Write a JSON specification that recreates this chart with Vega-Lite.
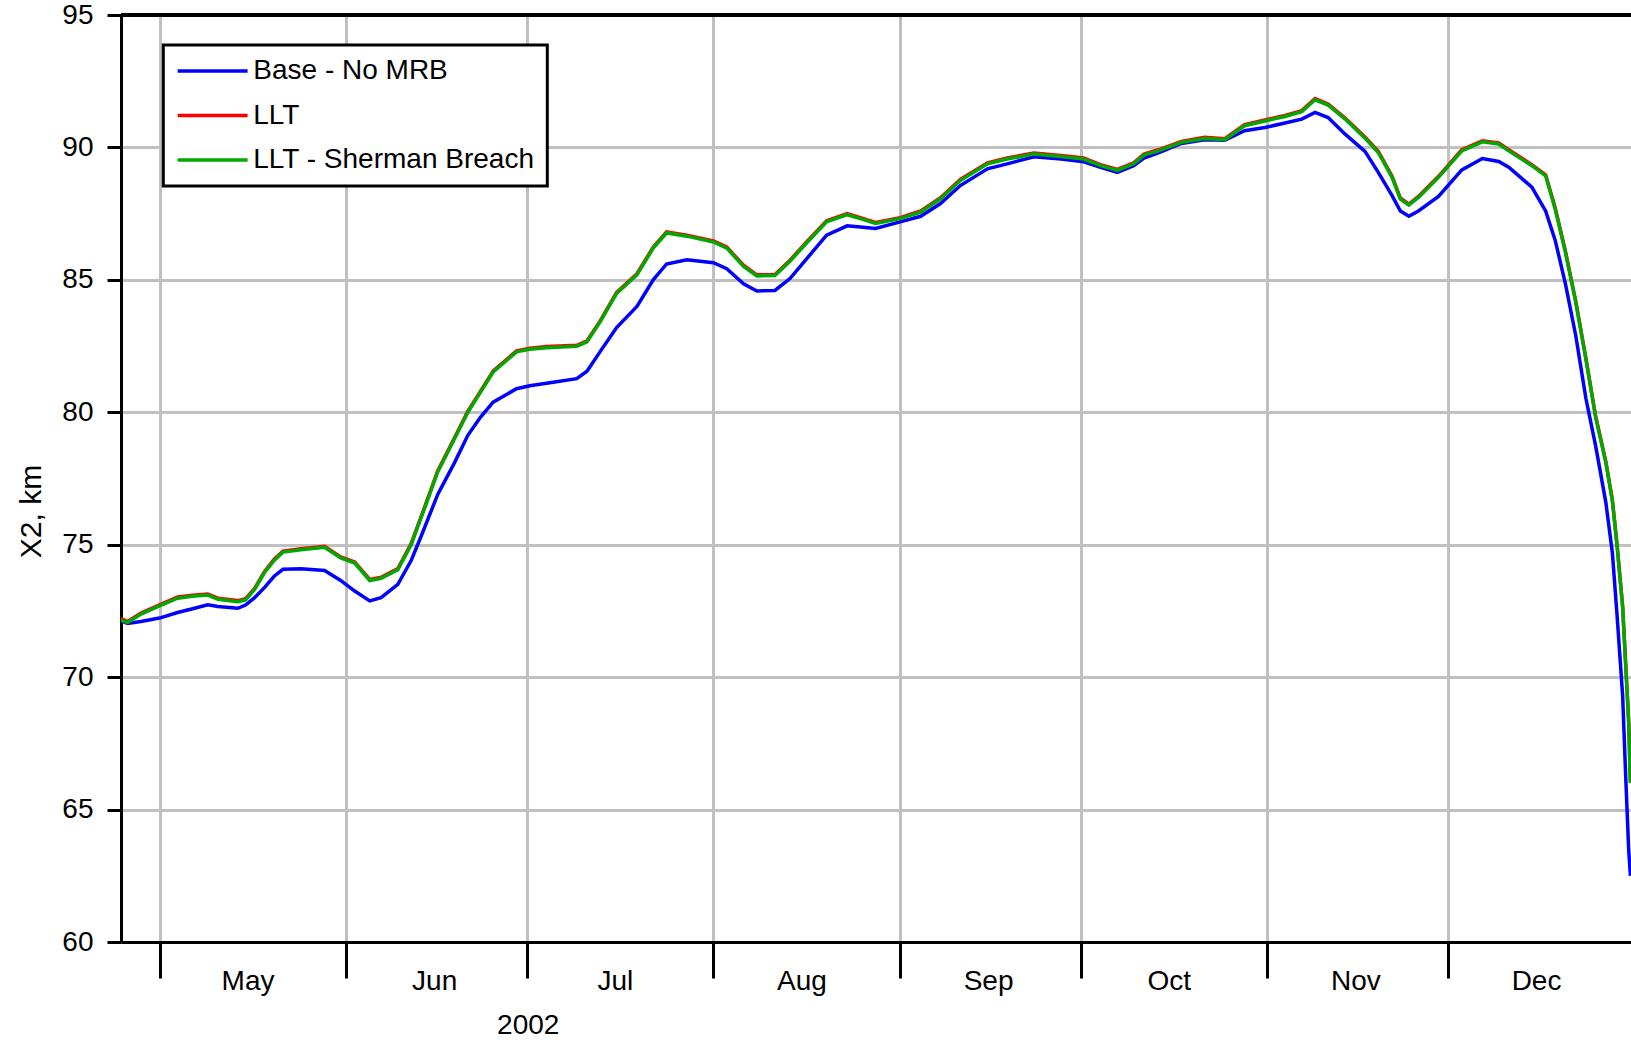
{
  "$schema": "https://vega.github.io/schema/vega-lite/v6.json",
  "autosize": "none",
  "padding": {"left": 121, "top": 15, "right": 0, "bottom": 98},
  "width": 1510,
  "height": 927,
  "background": "white",
  "config": {
    "view": {"stroke": null},
    "font": "Liberation Sans",
    "legend": {"strokeWidth": 3}
  },
  "data": {
    "values": [
      {"t": "2002-04-24T14:00", "base": 72.13, "llt": 72.22, "sb": 72.15},
      {"t": "2002-04-25T17:00", "base": 72.03, "llt": 72.10, "sb": 72.06},
      {"t": "2002-04-27T22:00", "base": 72.10, "llt": 72.42, "sb": 72.38},
      {"t": "2002-05-01T00:00", "base": 72.23, "llt": 72.73, "sb": 72.69},
      {"t": "2002-05-04T00:00", "base": 72.44, "llt": 73.03, "sb": 72.98},
      {"t": "2002-05-06T12:00", "base": 72.58, "llt": 73.09, "sb": 73.05},
      {"t": "2002-05-09T00:00", "base": 72.73, "llt": 73.14, "sb": 73.10},
      {"t": "2002-05-10T17:00", "base": 72.67, "llt": 72.98, "sb": 72.94},
      {"t": "2002-05-14T00:00", "base": 72.60, "llt": 72.89, "sb": 72.85},
      {"t": "2002-05-15T07:00", "base": 72.72, "llt": 72.96, "sb": 72.92},
      {"t": "2002-05-16T19:00", "base": 73.00, "llt": 73.35, "sb": 73.31},
      {"t": "2002-05-18T10:00", "base": 73.38, "llt": 73.98, "sb": 73.94},
      {"t": "2002-05-20T00:00", "base": 73.80, "llt": 74.44, "sb": 74.40},
      {"t": "2002-05-21T12:00", "base": 74.07, "llt": 74.76, "sb": 74.72},
      {"t": "2002-05-24T12:00", "base": 74.09, "llt": 74.85, "sb": 74.81},
      {"t": "2002-05-28T10:00", "base": 74.03, "llt": 74.94, "sb": 74.90},
      {"t": "2002-05-31T02:00", "base": 73.65, "llt": 74.54, "sb": 74.50},
      {"t": "2002-06-02T10:00", "base": 73.25, "llt": 74.35, "sb": 74.31},
      {"t": "2002-06-04T22:00", "base": 72.88, "llt": 73.69, "sb": 73.65},
      {"t": "2002-06-06T19:00", "base": 73.00, "llt": 73.77, "sb": 73.73},
      {"t": "2002-06-09T14:00", "base": 73.50, "llt": 74.10, "sb": 74.06},
      {"t": "2002-06-11T19:00", "base": 74.40, "llt": 75.04, "sb": 75.00},
      {"t": "2002-06-13T10:00", "base": 75.30, "llt": 76.04, "sb": 76.00},
      {"t": "2002-06-16T05:00", "base": 76.90, "llt": 77.79, "sb": 77.75},
      {"t": "2002-06-19T00:00", "base": 78.10, "llt": 79.04, "sb": 79.00},
      {"t": "2002-06-21T05:00", "base": 79.13, "llt": 80.04, "sb": 80.00},
      {"t": "2002-06-23T07:00", "base": 79.81, "llt": 80.79, "sb": 80.75},
      {"t": "2002-06-25T10:00", "base": 80.38, "llt": 81.56, "sb": 81.52},
      {"t": "2002-06-29T07:00", "base": 80.89, "llt": 82.32, "sb": 82.28},
      {"t": "2002-07-01T12:00", "base": 81.00, "llt": 82.42, "sb": 82.38},
      {"t": "2002-07-04T07:00", "base": 81.10, "llt": 82.48, "sb": 82.44},
      {"t": "2002-07-09T07:00", "base": 81.27, "llt": 82.53, "sb": 82.49},
      {"t": "2002-07-11T00:00", "base": 81.55, "llt": 82.70, "sb": 82.66},
      {"t": "2002-07-13T05:00", "base": 82.30, "llt": 83.46, "sb": 83.42},
      {"t": "2002-07-15T22:00", "base": 83.20, "llt": 84.53, "sb": 84.49},
      {"t": "2002-07-19T07:00", "base": 84.00, "llt": 85.23, "sb": 85.19},
      {"t": "2002-07-22T00:00", "base": 85.00, "llt": 86.24, "sb": 86.20},
      {"t": "2002-07-24T05:00", "base": 85.60, "llt": 86.81, "sb": 86.77},
      {"t": "2002-07-27T14:00", "base": 85.76, "llt": 86.69, "sb": 86.65},
      {"t": "2002-08-01T00:00", "base": 85.65, "llt": 86.47, "sb": 86.43},
      {"t": "2002-08-03T05:00", "base": 85.42, "llt": 86.24, "sb": 86.20},
      {"t": "2002-08-06T00:00", "base": 84.85, "llt": 85.55, "sb": 85.51},
      {"t": "2002-08-08T05:00", "base": 84.58, "llt": 85.19, "sb": 85.15},
      {"t": "2002-08-11T05:00", "base": 84.60, "llt": 85.20, "sb": 85.16},
      {"t": "2002-08-13T17:00", "base": 85.05, "llt": 85.74, "sb": 85.70},
      {"t": "2002-08-16T12:00", "base": 85.80, "llt": 86.44, "sb": 86.40},
      {"t": "2002-08-19T19:00", "base": 86.69, "llt": 87.23, "sb": 87.19},
      {"t": "2002-08-23T05:00", "base": 87.04, "llt": 87.50, "sb": 87.46},
      {"t": "2002-08-25T10:00", "base": 87.00, "llt": 87.35, "sb": 87.31},
      {"t": "2002-08-27T22:00", "base": 86.94, "llt": 87.17, "sb": 87.13},
      {"t": "2002-09-01T00:00", "base": 87.19, "llt": 87.35, "sb": 87.31},
      {"t": "2002-09-04T10:00", "base": 87.40, "llt": 87.60, "sb": 87.56},
      {"t": "2002-09-07T17:00", "base": 87.88, "llt": 88.10, "sb": 88.06},
      {"t": "2002-09-11T00:00", "base": 88.56, "llt": 88.79, "sb": 88.75},
      {"t": "2002-09-15T12:00", "base": 89.19, "llt": 89.42, "sb": 89.38},
      {"t": "2002-09-18T19:00", "base": 89.38, "llt": 89.60, "sb": 89.56},
      {"t": "2002-09-23T05:00", "base": 89.65, "llt": 89.79, "sb": 89.75},
      {"t": "2002-09-27T17:00", "base": 89.56, "llt": 89.70, "sb": 89.66},
      {"t": "2002-10-01T12:00", "base": 89.46, "llt": 89.60, "sb": 89.56},
      {"t": "2002-10-04T07:00", "base": 89.25, "llt": 89.35, "sb": 89.31},
      {"t": "2002-10-07T02:00", "base": 89.06, "llt": 89.17, "sb": 89.13},
      {"t": "2002-10-09T19:00", "base": 89.31, "llt": 89.42, "sb": 89.38},
      {"t": "2002-10-11T12:00", "base": 89.60, "llt": 89.75, "sb": 89.71},
      {"t": "2002-10-14T00:00", "base": 89.80, "llt": 89.92, "sb": 89.88},
      {"t": "2002-10-17T17:00", "base": 90.15, "llt": 90.23, "sb": 90.19},
      {"t": "2002-10-21T14:00", "base": 90.29, "llt": 90.38, "sb": 90.34},
      {"t": "2002-10-24T22:00", "base": 90.27, "llt": 90.33, "sb": 90.29},
      {"t": "2002-10-28T05:00", "base": 90.63, "llt": 90.86, "sb": 90.82},
      {"t": "2002-10-31T14:00", "base": 90.75, "llt": 91.04, "sb": 91.00},
      {"t": "2002-11-03T22:00", "base": 90.92, "llt": 91.21, "sb": 91.17},
      {"t": "2002-11-06T17:00", "base": 91.07, "llt": 91.39, "sb": 91.35},
      {"t": "2002-11-08T22:00", "base": 91.32, "llt": 91.85, "sb": 91.80},
      {"t": "2002-11-11T02:00", "base": 91.13, "llt": 91.64, "sb": 91.60},
      {"t": "2002-11-13T22:00", "base": 90.50, "llt": 91.11, "sb": 91.07},
      {"t": "2002-11-17T05:00", "base": 89.85, "llt": 90.39, "sb": 90.35},
      {"t": "2002-11-19T10:00", "base": 89.06, "llt": 89.85, "sb": 89.81},
      {"t": "2002-11-21T17:00", "base": 88.18, "llt": 88.91, "sb": 88.87},
      {"t": "2002-11-23T02:00", "base": 87.60, "llt": 88.09, "sb": 88.05},
      {"t": "2002-11-24T12:00", "base": 87.40, "llt": 87.86, "sb": 87.82},
      {"t": "2002-11-26T02:00", "base": 87.60, "llt": 88.15, "sb": 88.11},
      {"t": "2002-11-29T10:00", "base": 88.15, "llt": 88.91, "sb": 88.87},
      {"t": "2002-12-03T07:00", "base": 89.15, "llt": 89.91, "sb": 89.87},
      {"t": "2002-12-06T17:00", "base": 89.58, "llt": 90.25, "sb": 90.21},
      {"t": "2002-12-09T10:00", "base": 89.47, "llt": 90.17, "sb": 90.13},
      {"t": "2002-12-11T02:00", "base": 89.25, "llt": 89.91, "sb": 89.87},
      {"t": "2002-12-14T22:00", "base": 88.50, "llt": 89.35, "sb": 89.31},
      {"t": "2002-12-17T05:00", "base": 87.60, "llt": 88.97, "sb": 88.93},
      {"t": "2002-12-18T19:00", "base": 86.50, "llt": 87.72, "sb": 87.68},
      {"t": "2002-12-20T12:00", "base": 84.85, "llt": 86.08, "sb": 86.04},
      {"t": "2002-12-22T05:00", "base": 82.90, "llt": 84.20, "sb": 84.16},
      {"t": "2002-12-23T22:00", "base": 80.50, "llt": 82.02, "sb": 81.98},
      {"t": "2002-12-25T12:00", "base": 78.75, "llt": 79.87, "sb": 79.83},
      {"t": "2002-12-27T05:00", "base": 76.60, "llt": 78.14, "sb": 78.10},
      {"t": "2002-12-28T07:00", "base": 74.70, "llt": 76.70, "sb": 76.66},
      {"t": "2002-12-29T02:00", "base": 72.30, "llt": 74.98, "sb": 74.94},
      {"t": "2002-12-30T00:00", "base": 69.30, "llt": 72.68, "sb": 72.64},
      {"t": "2002-12-30T12:00", "base": 66.30, "llt": 70.52, "sb": 70.48},
      {"t": "2002-12-31T00:00", "base": 63.50, "llt": 68.34, "sb": 68.30},
      {"t": "2002-12-31T07:00", "base": 62.50, "llt": 66.04, "sb": 66.00}
    ]
  },
  "layer": [
    {
      "mark": {"type": "line", "strokeWidth": 3.5, "clip": true},
      "encoding": {
        "x": {
          "field": "t", "type": "temporal", "title": "2002",
          "scale": {"nice": false, "domain": [{"year": 2002, "month": 4, "date": 24, "hours": 14, "minutes": 30}, {"year": 2002, "month": 12, "date": 31, "hours": 9, "minutes": 20}]},
          "axis": {
            "tickCount": {"interval": "month", "step": 1}, "format": "%b",
            "labelOffset": 88, "labelFlush": false, "labelOverlap": false, "labelAlign": "center",
            "labelBaseline": "alphabetic", "labelPadding": 11,
            "labelFont": "Liberation Sans", "labelFontSize": 28, "labelColor": "black",
            "tickSize": 36, "tickWidth": 3, "tickColor": "black",
            "domainColor": "black", "domainWidth": 3,
            "grid": true, "gridColor": "#C0C0C0", "gridWidth": 3,
            "titleFont": "Liberation Sans", "titleFontSize": 28, "titleFontWeight": "normal", "titleColor": "black",
            "titleX": 406.7, "titleY": 91.3, "titleAlign": "center", "titleBaseline": "alphabetic"
          }
        },
        "y": {
          "field": "base", "type": "quantitative", "title": "X2, km",
          "scale": {"domain": [60, 95], "nice": false, "zero": false},
          "axis": {
            "values": [60, 65, 70, 75, 80, 85, 90, 95],
            "labelFont": "Liberation Sans", "labelFontSize": 28, "labelColor": "black", "labelPadding": 14,
            "tickSize": 14, "tickWidth": 3, "tickColor": "black",
            "domainColor": "black", "domainWidth": 3,
            "grid": true, "gridColor": "#C0C0C0", "gridWidth": 3,
            "titleFont": "Liberation Sans", "titleFontSize": 30, "titleFontWeight": "normal", "titleColor": "black",
            "titleAngle": -90, "titleX": -81, "titleY": 496, "titleAlign": "center", "titleBaseline": "alphabetic"
          }
        },
        "color": {
          "datum": "Base - No MRB", "type": "nominal",
          "scale": {"domain": ["Base - No MRB", "LLT", "LLT - Sherman Breach"], "range": ["#0000FF", "#FF0000", "#00A800"]},
          "legend": {
            "orient": "none", "legendX": 42.3, "legendY": 30, "title": null,
            "symbolType": "M-1,0H5", "symbolSize": 544, "symbolStrokeWidth": 3.5,
            "labelFont": "Liberation Sans", "labelFontSize": 28, "labelColor": "black",
            "labelOffset": 50, "labelLimit": 600, "rowPadding": 16.5, "padding": 12,
            "strokeColor": "black", "fillColor": "white", "cornerRadius": 0
          }
        }
      }
    },
    {
      "mark": {"type": "line", "strokeWidth": 3.5, "clip": true},
      "encoding": {
        "x": {"field": "t", "type": "temporal", "title": "2002"},
        "y": {"field": "llt", "type": "quantitative", "title": "X2, km"},
        "color": {"datum": "LLT", "type": "nominal"}
      }
    },
    {
      "mark": {"type": "line", "strokeWidth": 3.5, "clip": true},
      "encoding": {
        "x": {"field": "t", "type": "temporal", "title": "2002"},
        "y": {"field": "sb", "type": "quantitative", "title": "X2, km"},
        "color": {"datum": "LLT - Sherman Breach", "type": "nominal"}
      }
    },
    {
      "mark": {"type": "rule", "color": "black", "strokeWidth": 3},
      "encoding": {
        "y": {"datum": 95, "type": "quantitative", "title": "X2, km"}
      }
    }
  ]
}
